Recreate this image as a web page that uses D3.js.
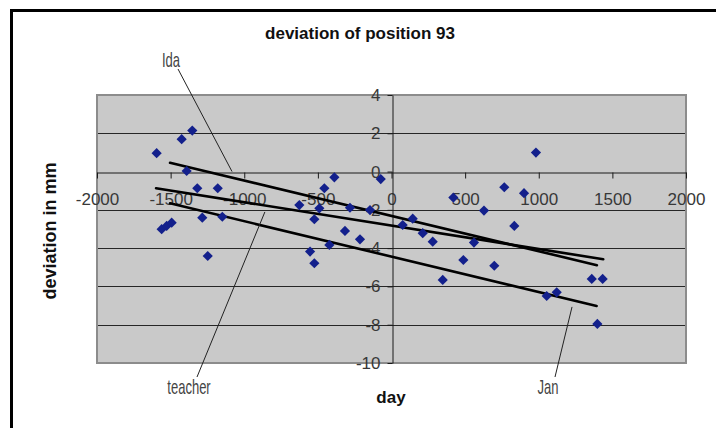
<!DOCTYPE html>
<html>
<head>
<meta charset="utf-8">
<script src="https://cdn.jsdelivr.net/npm/d3@7"></script>
<style>
  body { margin: 0; background: #fff; }
  text { font-family: "Liberation Sans", Arial, sans-serif; }
</style>
</head>
<body>
<div id="chart"></div>
<script>
// measured points (day, deviation in mm)
const days = [
  -1353, -1425, -1595, -1391, -1319, -1180, -1285, -1149, -1561, -1527, -1493, -1248,
  -388, -73, -456, -626, -490, -524, -282, -146, -316, -214, -422, -553, -524,
  144, 76, 212, 280, 420, 628, 766, 900, 981, 834, 560, 488, 698, 348,
  1360, 1434, 1054, 1122, 1398
];
const deviations = [
  2.14, 1.69, 0.96, 0.03, -0.87, -0.87, -2.41, -2.36, -3.01, -2.84, -2.67, -4.41,
  -0.30, -0.39, -0.87, -1.75, -1.92, -2.49, -1.89, -2.01, -3.10, -3.54, -3.83, -4.18, -4.79,
  -2.46, -2.79, -3.22, -3.66, -1.36, -2.04, -0.82, -1.13, 0.99, -2.84, -3.71, -4.62, -4.92, -5.66,
  -5.61, -5.61, -6.50, -6.31, -7.96
];

const xTicks = [-2000, -1500, -1000, -500, 0, 500, 1000, 1500, 2000];
const yTicks = [4, 2, 0, -2, -4, -6, -8, -10];

// trend lines: name, start and end (day, mm)
const trendNames = ['Ida', 'teacher', 'Jan'];
const trendStart = [[-1504, 0.46], [-1599, -0.87], [-1504, -1.66]];
const trendEnd = [[1395, -4.89], [1438, -4.58], [1393, -7.02]];
// where each callout touches the chart (day, mm)
const calloutTarget = [[-1083, 0.0], [-860, -2.11], [1226, -7.07]];

const width = 716, height = 428;
const plot = { left: 97, right: 686, top: 95, bottom: 363 };

const svg = d3.select('#chart').append('svg')
  .attr('width', width)
  .attr('height', height);

// outer frame (only top and left edges are visible)
svg.append('path')
  .attr('d', `M11.5,${height} V10.5 H${width}`)
  .attr('fill', 'none')
  .attr('stroke', '#000')
  .attr('stroke-width', 3);

const x = d3.scaleLinear().domain([-2000, 2000]).range([plot.left, plot.right]);
const y = d3.scaleLinear().domain([-10, 4]).range([plot.bottom, plot.top]);

// plot area
svg.append('rect')
  .attr('x', plot.left)
  .attr('y', plot.top)
  .attr('width', plot.right - plot.left)
  .attr('height', plot.bottom - plot.top)
  .attr('fill', '#c9c9c9')
  .attr('stroke', '#8c8c8c')
  .attr('stroke-width', 2);

// gridlines
svg.append('g')
  .selectAll('line')
  .data(yTicks.filter(d => d !== 4 && d !== -10 && d !== 0))
  .enter()
  .append('line')
  .attr('x1', plot.left + 1)
  .attr('x2', plot.right - 1)
  .attr('y1', d => Math.round(y(d)) + 0.5)
  .attr('y2', d => Math.round(y(d)) + 0.5)
  .attr('stroke', '#262626')
  .attr('stroke-width', 1);

// axes crossing at zero, plain labels (hyphen minus, no thousands comma)
const plain = d => String(d);
const xAxis = svg.append('g')
  .attr('transform', `translate(0,${Math.round(y(0)) + 0.5})`)
  .call(d3.axisBottom(x).tickValues(xTicks).tickFormat(plain)
    .tickSizeInner(6).tickSizeOuter(0).tickPadding(14));

const yAxis = svg.append('g')
  .attr('transform', `translate(${Math.round(x(0)) + 0.5},0)`)
  .call(d3.axisLeft(y).tickValues(yTicks).tickFormat(plain)
    .tickSizeInner(5).tickSizeOuter(0).tickPadding(7));

[xAxis, yAxis].forEach(g => {
  g.select('.domain').attr('stroke', '#1a1a1a');
  g.selectAll('.tick line').attr('stroke', '#1a1a1a');
  g.selectAll('.tick text')
    .attr('fill', '#383838')
    .style('font-size', '17px')
    .style('font-family', '"Liberation Sans", Arial, sans-serif');
});

// trend lines
svg.append('g')
  .selectAll('line')
  .data(trendNames)
  .enter()
  .append('line')
  .attr('x1', (d, i) => x(trendStart[i][0]))
  .attr('y1', (d, i) => y(trendStart[i][1]))
  .attr('x2', (d, i) => x(trendEnd[i][0]))
  .attr('y2', (d, i) => y(trendEnd[i][1]))
  .attr('stroke', '#000')
  .attr('stroke-width', 2.6)
  .attr('stroke-linecap', 'round');

// points
const diamond = d3.symbol().type(d3.symbolSquare).size(52);
svg.append('g')
  .selectAll('path')
  .data(days)
  .enter()
  .append('path')
  .attr('d', diamond)
  .attr('transform', (d, i) => `translate(${x(d)},${y(deviations[i])}) rotate(45)`)
  .attr('fill', '#13208c');

// callouts: label anchor in pixels, line start in pixels
const calloutLayout = [
  { tx: 171, ty: 67, lx: 178, ly: 69 },
  { tx: 189, ty: 394, lx: 197, ly: 377 },
  { tx: 548, ty: 394, lx: 555, ly: 377 }
];
trendNames.forEach((name, i) => {
  const c = calloutLayout[i];
  svg.append('line')
    .attr('x1', c.lx)
    .attr('y1', c.ly)
    .attr('x2', x(calloutTarget[i][0]))
    .attr('y2', y(calloutTarget[i][1]))
    .attr('stroke', '#222')
    .attr('stroke-width', 1);
  // narrow lettering: squeeze horizontally
  svg.append('text')
    .attr('transform', `translate(${c.tx},${c.ty}) scale(0.62,1)`)
    .attr('text-anchor', 'middle')
    .style('font-size', '21px')
    .attr('fill', '#444')
    .text(name);
});

// titles
svg.append('text')
  .attr('x', 360)
  .attr('y', 39)
  .attr('text-anchor', 'middle')
  .style('font-size', '17px')
  .style('font-weight', 'bold')
  .attr('fill', '#111')
  .text('deviation of position 93');

svg.append('text')
  .attr('x', 391)
  .attr('y', 403)
  .attr('text-anchor', 'middle')
  .style('font-size', '17px')
  .style('font-weight', 'bold')
  .attr('fill', '#111')
  .text('day');

svg.append('text')
  .attr('transform', 'rotate(-90)')
  .attr('x', -231)
  .attr('y', 56)
  .attr('text-anchor', 'middle')
  .style('font-size', '18px')
  .style('font-weight', 'bold')
  .attr('fill', '#111')
  .text('deviation in mm');
</script>
</body>
</html>
